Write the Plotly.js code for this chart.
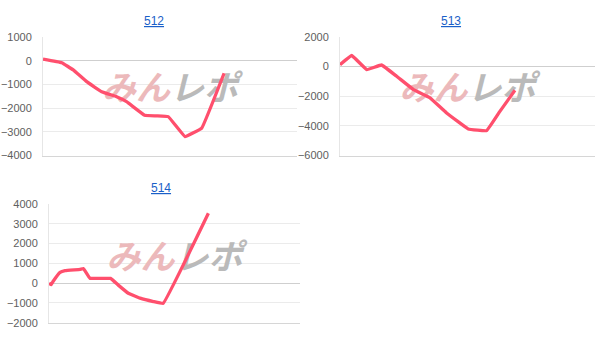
<!DOCTYPE html>
<html>
<head>
<meta charset="utf-8">
<script src="https://cdn.plot.ly/plotly-3.0.1.min.js"></script>
<style>html,body{margin:0;padding:0;background:#fff;}#chart{width:600px;height:344px;}</style>
</head>
<body>
<div id="chart"></div>
<script>
// Machine numbers (subplot titles)
const machines = ["512", "513", "514"];

// Progress (x) and balance (y) per machine
const x512 = [0, 7.4, 11.9, 17.2, 23.1, 29, 32.9, 40, 44.5, 49.3, 55.9, 62.5, 71.3];
const y512 = [70, -85, -390, -885, -1310, -1520, -1730, -2300, -2330, -2360, -3200, -2840, -530];

const x513 = [0, 4.6, 10.5, 16.3, 22.2, 28.8, 35.3, 41.8, 50.3, 57.5, 62.7, 68.6];
const y513 = [130, 750, -200, 110, -650, -1550, -2110, -3130, -4210, -4320, -3020, -1600];

const x514 = [0, 0.8, 1.6, 4.4, 6.4, 12.4, 13.7, 16.3, 24.5, 27.6, 31.6, 36.3, 41.6, 45.5, 63.5];
const y514 = [0, -80, 80, 540, 630, 700, 740, 250, 240, -100, -510, -760, -930, -1020, 3530];

// Y axis tick settings
const yRanges = [[-4000, 1000], [-6000, 2000], [-2000, 4000]];
const yDticks = [1000, 2000, 1000];

const lineColor = '#ff4f6d';
const logoText = '<b><span style="color:#ecb9bb">みん</span><span style="color:#bababa">レポ</span></b>';

const xs = [x512, x513, x514];
const ys = [y512, y513, y514];
const logoY = [-1320, -1690, 1150];

const traces = [];
machines.forEach((m, i) => {
  const ax = i === 0 ? '' : String(i + 1);
  traces.push({
    x: [50], y: [logoY[i]], mode: 'text', text: [logoText],
    textfont: {family: '"Noto Sans CJK JP", sans-serif', size: 34, style: 'italic'},
    xaxis: 'x' + ax, yaxis: 'y' + ax, hoverinfo: 'skip', showlegend: false
  });
  traces.push({
    x: xs[i], y: ys[i], mode: 'lines',
    line: {color: lineColor, width: 3.3, shape: 'spline', smoothing: 0.2},
    xaxis: 'x' + ax, yaxis: 'y' + ax, showlegend: false
  });
});

const xdom = [[43/600, 297/600], [340/600, 595/600], [49/600, 300/600]];
const ydom = [[1 - 155.5/344, 1 - 37/344], [1 - 155.5/344, 1 - 37/344], [1 - 322.7/344, 1 - 204/344]];
const titlePos = [[154, 21], [451, 21], [160.5, 188]];

const layout = {
  width: 600, height: 344,
  margin: {l: 0, r: 0, t: 0, b: 0},
  paper_bgcolor: '#fff', plot_bgcolor: '#fff',
  font: {family: 'Arial, "Liberation Sans", sans-serif', color: '#666', size: 11},
  annotations: [],
  showlegend: false
};

machines.forEach((m, i) => {
  const ax = i === 0 ? '' : String(i + 1);
  layout['xaxis' + ax] = {
    domain: xdom[i], range: [0, 100], showgrid: false, zeroline: false,
    showticklabels: false, showline: true, linecolor: '#d6d6d6', linewidth: 1,
    anchor: 'y' + ax, fixedrange: true
  };
  layout['yaxis' + ax] = {
    domain: ydom[i], range: yRanges[i], dtick: yDticks[i], tick0: 0,
    showgrid: true, gridcolor: '#ebebeb', gridwidth: 1,
    zeroline: true, zerolinecolor: '#cfcfcf', zerolinewidth: 1,
    showline: true, linecolor: '#e6e6e6', linewidth: 1,
    ticks: '', ticklabelstandoff: 8,
    tickfont: {size: 11, color: '#606060'},
    anchor: 'x' + ax, fixedrange: true
  };
  layout.annotations.push({
    xref: 'paper', yref: 'paper',
    x: titlePos[i][0] / 600, y: 1 - titlePos[i][1] / 344,
    xanchor: 'center', yanchor: 'middle', showarrow: false,
    text: '<u>' + m + '</u>',
    font: {size: 12, color: '#1a5fc8', family: 'Arial, "Liberation Sans", sans-serif'}
  });
});

Plotly.newPlot('chart', traces, layout, {displayModeBar: false, staticPlot: true});
</script>
</body>
</html>
